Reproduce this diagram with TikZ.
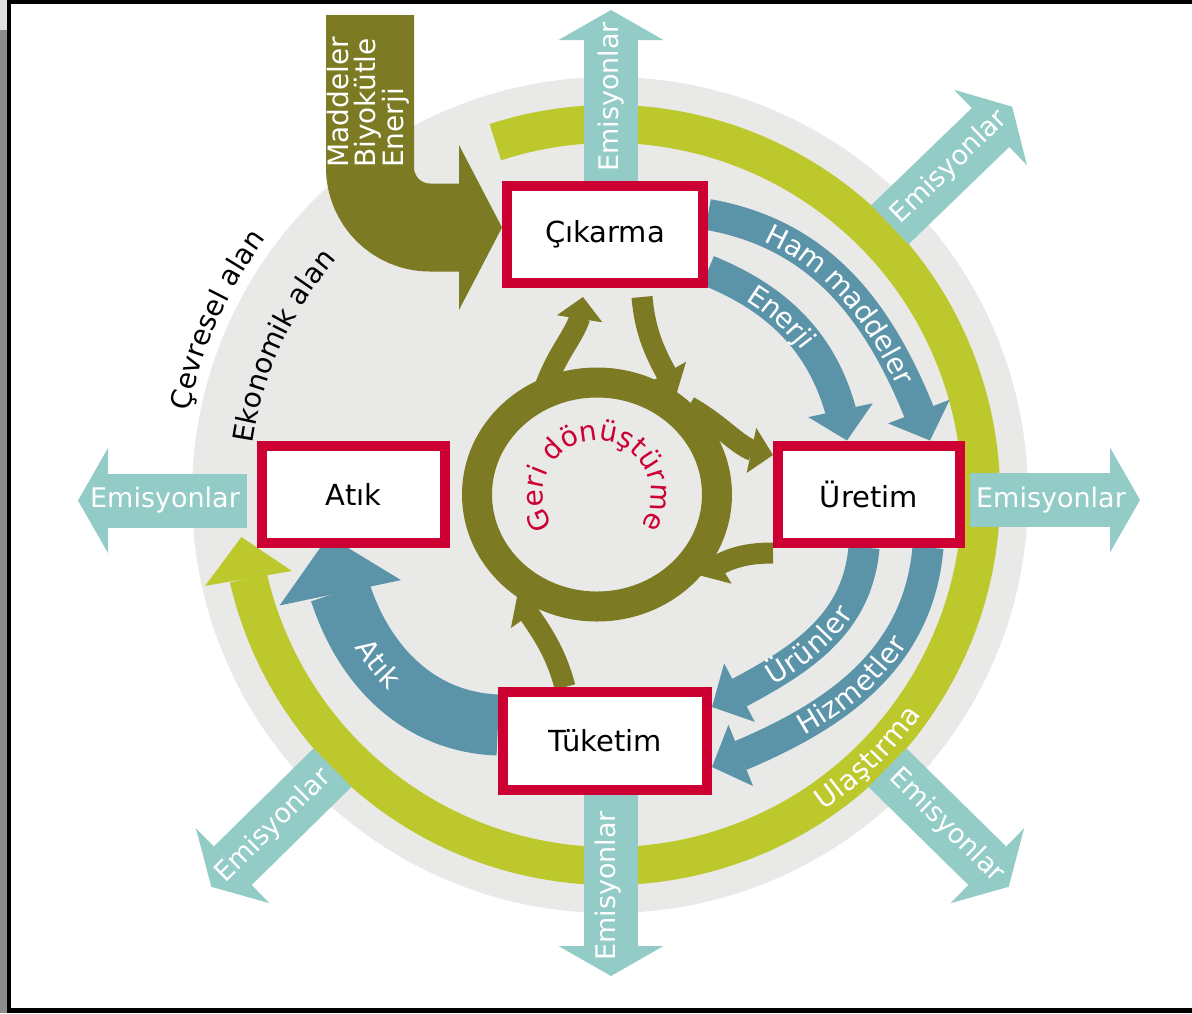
\documentclass[tikz,border=0pt]{standalone}
\usepackage{fontspec}
\setmainfont{DejaVu Sans}
\usetikzlibrary{arrows.meta,bending,shapes.geometric,decorations.text}

\definecolor{discgrey}{HTML}{E9E9E7}
\definecolor{ringlime}{HTML}{BDC82D}
\definecolor{recolive}{HTML}{7C7B23}
\definecolor{flowblue}{HTML}{5B93A9}
\definecolor{emisteal}{HTML}{93CCC7}
\definecolor{boxred}{HTML}{CC0033}

\pgfdeclarelayer{back}
\pgfsetlayers{back,main}

\tikzset{
  stage/.style={draw=boxred, line width=10pt, fill=white, inner sep=0pt,
    font=\fontsize{29}{31}\selectfont},
  emis/.style={emisteal, line width=54pt,
    -{Triangle[length=30pt,width=105pt,line width=0pt]}},
  emistext/.style={text=white, inner sep=0pt, font=\fontsize{27}{29}\selectfont},
  flow/.style={flowblue, line width=31pt,
    -{Triangle[length=31pt,width=66pt,line width=0pt]}},
  recycle/.style={recolive, line width=21pt,
    -{Triangle[length=22pt,width=46pt,line width=0pt]}},
  arctext/.style={decorate, decoration={text along path,
    text={|\fontsize{28}{30}\selectfont|#1}}},
  bandtext/.style={arctext=#1, decoration={raise=-10pt, text color=white}},
}

\begin{document}
\begin{tikzpicture}[x=1pt, y=1pt]
  \useasboundingbox (0,0) rectangle (1192,-1013);

  % stages
  \node[stage, minimum width=196pt, minimum height=97pt] (cik) at (605,-234.5) {Çıkarma};
  \node[stage, minimum width=182pt, minimum height=97pt] (ure) at (869,-494) {Üretim};
  \node[stage, minimum width=204pt, minimum height=98pt] (tuk) at (605,-741) {Tüketim};
  \node[stage, minimum width=183pt, minimum height=97pt] (atik) at (353.5,-494.5) {Atık};

  % recycling ring
  \node[ellipse, draw=recolive, line width=30pt, inner sep=0pt,
    minimum width=240pt, minimum height=224pt] (geri) at (597,-494.5) {};
  \path[decorate, decoration={text along path, text align=center, text color=boxred,
      text={|\fontsize{28}{30}\selectfont|Geri dönüştürme}}]
    ([shift={(219:54)}]geri.center) arc[start angle=219, end angle=-39, radius=54];

  \node[text=white, rotate=90, anchor=north west, align=left, inner sep=0pt,
    font=\fontsize{28}{27}\selectfont] (madde) at (327,-168) {Maddeler\\Biyokütle\\Enerji};

  \begin{pgfonlayer}{back}
    % frame
    \fill[white] (0,0) rectangle (1192,-1013);
    \fill[black!45] (0,0) rectangle (7,-1013);
    \fill[black!12] (0,0) rectangle (7,-30);
    \fill[black] (7,0) rectangle (1192,-4);
    \fill[black] (7,0) rectangle (11,-1013);
    \fill[black] (7,-1008) rectangle (1192,-1013);

    \coordinate (c) at (610,-495);
    \fill[discgrey] (c) circle[radius=418];
    \path[arctext=Çevresel alan, decoration={text align=center}]
      ([shift={(171:429)}]c) arc[start angle=171, end angle=141, radius=429];
    \path[arctext=Ekonomik alan, decoration={text align=center}]
      ([shift={(173:361)}]c) arc[start angle=173, end angle=138, radius=361];

    % transport ring
    \draw[ringlime, line width=38pt, -{Triangle[length=42pt,width=88pt,line width=0pt]}]
      ([shift={(108:371)}]c) arc[start angle=108, end angle=-173.5, radius=371];
    \path[bandtext=Ulaştırma, decoration={text align=center}]
      ([shift={(-60:371)}]c) arc[start angle=-60, end angle=-31, radius=371];

    % input from nature
    \coordinate (src) at (370,-15);
    \draw[recolive, line width=88pt, rounded corners=60pt,
      -{Triangle[length=43pt,width=165pt,line width=0pt]}] (src) |- ([yshift=7pt]cik.west);

    % emissions
    \coordinate (emN) at (611,-10);
    \coordinate (emS) at (611,-976);
    \coordinate (emW) at (78,-500.5);
    \coordinate (emE) at (1140,-500);
    \draw[emis] ([xshift=6pt]cik.north) -- (emN);
    \draw[emis] ([xshift=6pt]tuk.south) -- (emS);
    \draw[emis] ([xshift=-10pt,yshift=-6pt]atik.west) -- (emW);
    \draw[emis] ([xshift=5pt,yshift=-6pt]ure.east) -- (emE);
    \node[emistext, rotate=90] (emN-t) at (611,-97) {Emisyonlar};
    \node[emistext, rotate=90] (emS-t) at (608,-886) {Emisyonlar};
    \node[emistext] (emW-t) at (165,-500) {Emisyonlar};
    \node[emistext] (emE-t) at (1051,-500) {Emisyonlar};
    \foreach \a/\r/\n in {44/44/ne, -44.5/-44.5/se, 224.5/44.5/sw} {
      \draw[emis] ([shift={(\a:389)}]c) coordinate (em\n0) -- ([shift={(\a:559)}]c) coordinate (em\n);
      \node[emistext, rotate=\r] (em\n-t) at ([shift={(\a:472)}]c) {Emisyonlar};
    }

    % economic flows
    \draw[flow] ([yshift=20pt]cik.east) to[out=-10, in=110] ([xshift=61pt]ure.north);
    \path[bandtext=Ham maddeler, decoration={text align=center}]
      ([yshift=20pt]cik.east) to[out=-10, in=110] ([xshift=61pt]ure.north);
    \draw[flow] ([yshift=-36pt]cik.east) to[out=-22, in=99] ([xshift=-22pt]ure.north);
    \path[bandtext=Enerji, decoration={text align={left indent=48pt}}]
      ([yshift=-36pt]cik.east) to[out=-22, in=99] ([xshift=-22pt]ure.north);
    \draw[flow] ([xshift=-5pt]ure.south) to[out=-95, in=27.5] ([yshift=34pt]tuk.east);
    \path[bandtext=Ürünler, decoration={text align=center}]
      ([yshift=34pt]tuk.east) to[out=27.5, in=-95] ([xshift=-5pt]ure.south);
    \draw[flow] ([xshift=59pt]ure.south) to[out=-95, in=21] ([yshift=-26pt]tuk.east);
    \path[bandtext=Hizmetler, decoration={text align=center}]
      ([yshift=-26pt]tuk.east) to[out=21, in=-95] ([xshift=59pt]ure.south);
    \draw[flow, line width=61pt, -{Triangle[length=58pt,width=124pt,line width=0pt]}]
      ([yshift=16pt]tuk.west) to[out=178, in=-84] ([xshift=-25pt,yshift=12pt]atik.south);
    \path[bandtext=Atık, decoration={text align=center}]
      ([xshift=-25pt,yshift=12pt]atik.south) to[out=-84, in=178] ([yshift=16pt]tuk.west);

    % recycling
    \draw[recycle, shorten <=-14pt] (geri.112) to[out=70, in=-90] ([xshift=-22pt,yshift=-9pt]cik.south);
    \draw[recycle] ([xshift=37pt,yshift=-9pt]cik.south) to[out=-85, in=120] (geri.52);
    \draw[recycle, shorten <=-14pt] (geri.38) to[out=-30, in=178] ([yshift=39pt]ure.west);
    \draw[recycle] ([yshift=-59pt]ure.west) to[out=180, in=35] (geri.-38);
    \draw[recycle] ([xshift=-40pt]tuk.north) to[out=105, in=-55] (geri.-128);
  \end{pgfonlayer}
\end{tikzpicture}
\end{document}
